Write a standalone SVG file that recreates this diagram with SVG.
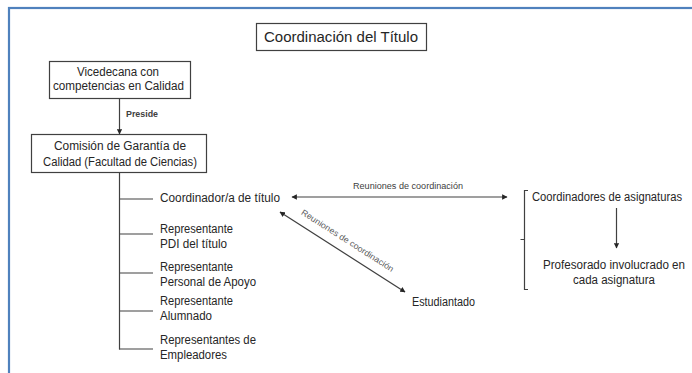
<svg xmlns="http://www.w3.org/2000/svg" width="692" height="373" viewBox="0 0 692 373">
<defs>
<style>
.t{font-family:"Liberation Sans",Arial,sans-serif;font-size:12px;fill:#262626}
.s{font-family:"Liberation Sans",Arial,sans-serif;font-size:8.5px;fill:#404040}
.box{fill:#fff;stroke:#404040;stroke-width:1.2}
.ln{stroke:#404040;stroke-width:1.2;fill:none}
</style>
<marker id="ah" viewBox="0 0 10 10" refX="9" refY="5" markerWidth="4.5" markerHeight="4.5" orient="auto-start-reverse" markerUnits="strokeWidth">
<path d="M0,0 L10,5 L0,10 z" fill="#262626"/>
</marker>
</defs>
<rect x="0" y="0" width="692" height="373" fill="#fff"/>
<rect x="9" y="8" width="700" height="400" fill="none" stroke="#4F81BD" stroke-width="2.2"/>

<g id="title">
<rect class="box" x="256.5" y="23.5" width="170" height="27"/>
<text class="t" x="341" y="42" text-anchor="middle" style="font-size:15.5px" textLength="154" lengthAdjust="spacingAndGlyphs">Coordinación del Título</text>
</g>

<g id="connectors">
<line class="ln" x1="119.5" y1="99" x2="119.5" y2="134" marker-end="url(#ah)"/>
<text class="s" x="126" y="117" style="font-weight:bold" textLength="32" lengthAdjust="spacingAndGlyphs">Preside</text>
<line class="ln" x1="119.5" y1="173" x2="119.5" y2="349.5"/>
<line class="ln" x1="119" y1="199" x2="153" y2="199"/>
<line class="ln" x1="119" y1="234" x2="153" y2="234"/>
<line class="ln" x1="119" y1="273" x2="153" y2="273"/>
<line class="ln" x1="119" y1="311" x2="153" y2="311"/>
<line class="ln" x1="119" y1="349" x2="153" y2="349"/>
<line class="ln" x1="292" y1="197" x2="507" y2="197" marker-start="url(#ah)" marker-end="url(#ah)"/>
<text class="s" x="408" y="189" text-anchor="middle" textLength="110" lengthAdjust="spacingAndGlyphs">Reuniones de coordinación</text>
<line class="ln" x1="280" y1="212" x2="405" y2="292" marker-start="url(#ah)" marker-end="url(#ah)"/>
<text class="s" transform="translate(346,243) rotate(32.6)" x="0" y="0" text-anchor="middle" style="fill:#595959" textLength="108" lengthAdjust="spacingAndGlyphs">Reuniones de coordinación</text>
<path class="ln" d="M528,190.5 L524.5,190.5 L524.5,289.5 L528,289.5 M524.5,239.5 L520.5,239.5"/>
<line class="ln" x1="616.5" y1="208" x2="616.5" y2="248" marker-end="url(#ah)"/>
</g>

<g id="vicedecana">
<rect class="box" x="49.5" y="61.5" width="141" height="37"/>
<text class="t" x="118" y="76" text-anchor="middle" textLength="82" lengthAdjust="spacingAndGlyphs">Vicedecana con</text>
<text class="t" x="118.5" y="90" text-anchor="middle" textLength="131" lengthAdjust="spacingAndGlyphs">competencias en Calidad</text>
</g>

<g id="comision">
<rect class="box" x="31.5" y="134.5" width="175" height="38"/>
<text class="t" x="120" y="150" text-anchor="middle" textLength="132" lengthAdjust="spacingAndGlyphs">Comisión de Garantía de</text>
<text class="t" x="120" y="166" text-anchor="middle" textLength="154" lengthAdjust="spacingAndGlyphs">Calidad (Facultad de Ciencias)</text>
</g>

<g id="coordinador">
<text class="t" x="160" y="202" textLength="120" lengthAdjust="spacingAndGlyphs">Coordinador/a de título</text>
</g>
<g id="rep-pdi">
<text class="t" x="160" y="233" textLength="73" lengthAdjust="spacingAndGlyphs">Representante</text>
<text class="t" x="160" y="248" textLength="67" lengthAdjust="spacingAndGlyphs">PDI del título</text>
</g>
<g id="rep-personal">
<text class="t" x="160" y="271" textLength="73" lengthAdjust="spacingAndGlyphs">Representante</text>
<text class="t" x="160" y="286" textLength="96" lengthAdjust="spacingAndGlyphs">Personal de Apoyo</text>
</g>
<g id="rep-alumnado">
<text class="t" x="160" y="305" textLength="73" lengthAdjust="spacingAndGlyphs">Representante</text>
<text class="t" x="160" y="320" textLength="52" lengthAdjust="spacingAndGlyphs">Alumnado</text>
</g>
<g id="rep-empleadores">
<text class="t" x="160" y="344" textLength="96" lengthAdjust="spacingAndGlyphs">Representantes de</text>
<text class="t" x="160" y="359" textLength="67" lengthAdjust="spacingAndGlyphs">Empleadores</text>
</g>
<g id="estudiantado">
<text class="t" x="412" y="306" textLength="63" lengthAdjust="spacingAndGlyphs">Estudiantado</text>
</g>
<g id="coord-asig">
<text class="t" x="532" y="201" textLength="150" lengthAdjust="spacingAndGlyphs">Coordinadores de asignaturas</text>
</g>
<g id="profesorado">
<text class="t" x="614" y="269" text-anchor="middle" textLength="142" lengthAdjust="spacingAndGlyphs">Profesorado involucrado en</text>
<text class="t" x="614" y="284" text-anchor="middle" textLength="82" lengthAdjust="spacingAndGlyphs">cada asignatura</text>
</g>
</svg>
